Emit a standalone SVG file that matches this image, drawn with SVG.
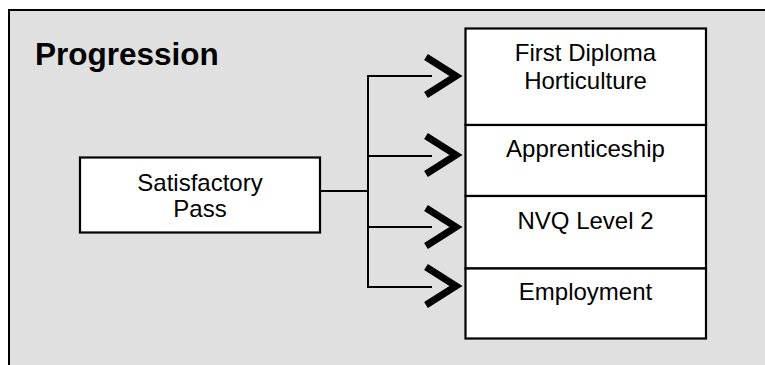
<svg xmlns="http://www.w3.org/2000/svg" width="765" height="365" viewBox="0 0 765 365">
<style>
.box{fill:#ffffff;stroke:#000000;stroke-width:2.2}
.t{font-family:"Liberation Sans",Arial,sans-serif;font-size:24px;fill:#000000;text-anchor:middle}
.ln{fill:none;stroke:#000000;stroke-width:2}
.chev{fill:none;stroke:#000000;stroke-width:7;stroke-linejoin:miter;stroke-miterlimit:10}
</style>
<rect x="0" y="0" width="765" height="365" fill="#ffffff"/>
<g id="frame">
<rect x="9" y="10" width="770" height="370" fill="#e0e0e0" stroke="#000000" stroke-width="2"/>
<text x="35" y="65" font-family="'Liberation Sans',Arial,sans-serif" font-size="31.5" font-weight="bold" fill="#000000">Progression</text>
</g>
<g id="node-pass">
<rect class="box" x="80" y="157.5" width="240" height="75"/>
<text class="t" x="200" y="191">Satisfactory</text>
<text class="t" x="200" y="217">Pass</text>
</g>
<g id="node-diploma">
<rect class="box" x="465.5" y="28.5" width="240.5" height="96.5"/>
<text class="t" x="585.5" y="61">First Diploma</text>
<text class="t" x="585.5" y="88.5">Horticulture</text>
</g>
<g id="node-apprenticeship">
<rect class="box" x="465.5" y="125" width="240.5" height="71"/>
<text class="t" x="585.5" y="157">Apprenticeship</text>
</g>
<g id="node-nvq">
<rect class="box" x="465.5" y="196" width="240.5" height="72.5"/>
<text class="t" x="585.5" y="228.5">NVQ Level 2</text>
</g>
<g id="node-employment">
<rect class="box" x="465.5" y="268.5" width="240.5" height="70"/>
<text class="t" x="585.5" y="299.5">Employment</text>
</g>
<g id="connectors">
<path class="ln" d="M320 191 H368 M368 75 V288 M367 76 H432 M367 156 H432 M367 227 H432 M367 287 H432"/>
<polyline class="chev" points="426,57 456,76 426,95"/>
<polyline class="chev" points="426,136 456,155 426,174"/>
<polyline class="chev" points="426,208 456,227 426,246"/>
<polyline class="chev" points="426,267 456,286 426,305"/>
</g>
</svg>
